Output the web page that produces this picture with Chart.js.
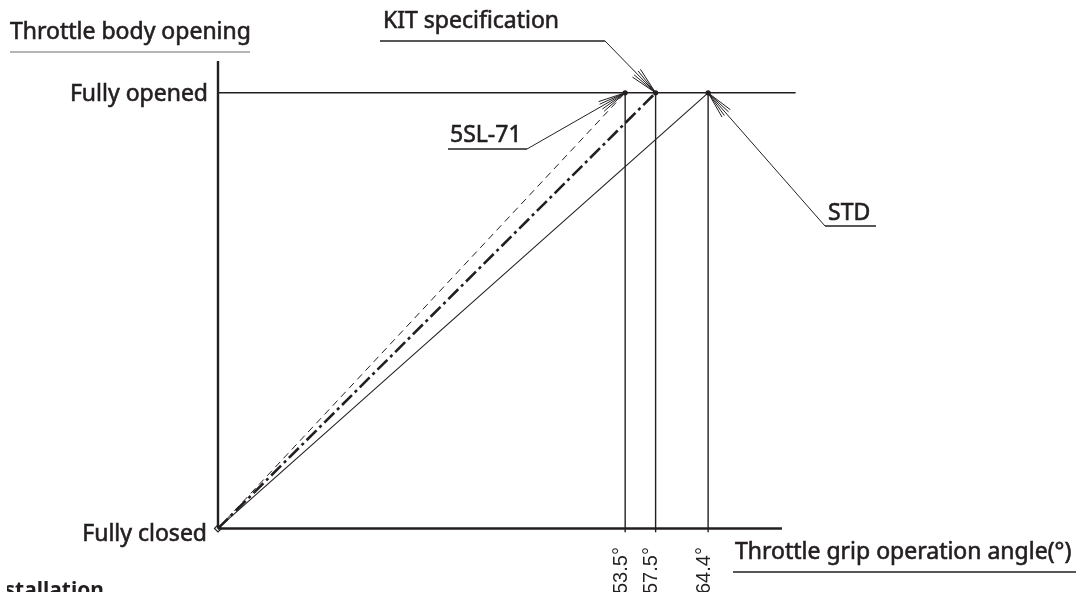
<!DOCTYPE html>
<html>
<head>
<meta charset="utf-8">
<script src="https://cdn.jsdelivr.net/npm/chart.js@4.4.1/dist/chart.umd.min.js"></script>
<style>
  html, body { margin: 0; padding: 0; background: #fff; }
  canvas { display: block; }
</style>
</head>
<body>
<canvas id="throttleChart" width="1078" height="592"></canvas>
<script>
// grip angle (deg) at which each spec reaches fully opened
const specNames = ['5SL-71', 'KIT specification', 'STD'];
const fullOpenAngles = [53.5, 57.5, 64.4];
const tickLabels = ['53.5°', '57.5°', '64.4°'];

// throttle body opening levels
const levelNames = ['Fully closed', 'Fully opened'];
const levelValues = [0, 1];

const xTitle = 'Throttle grip operation angle(°)';
const yTitle = 'Throttle body opening';

// extents of the drawn axes
const xAxisEnd = 74.1;
const openLineEnd = 75.9;
const yAxisTop = 1.073;

const ink = '#231f20';

const diag = (a) => [{ x: 0, y: levelValues[0] }, { x: a, y: levelValues[1] }];
const vline = (a) => [{ x: a, y: -0.009 }, { x: a, y: levelValues[1] }];

const lineSet = (data, width, dash) => ({
    data: data,
    showLine: true,
    borderColor: ink,
    borderWidth: width,
    borderDash: dash || [],
    pointRadius: 0,
    clip: false
});

const datasets = [
    lineSet([{ x: 0, y: 0 }, { x: 0, y: yAxisTop }], 2.4),
    lineSet([{ x: 0, y: 0 }, { x: xAxisEnd, y: 0 }], 2.4),
    lineSet([{ x: 0, y: levelValues[1] }, { x: openLineEnd, y: levelValues[1] }], 1.4),
];
fullOpenAngles.forEach(a => datasets.push(lineSet(vline(a), 1.4)));
datasets.push(lineSet(diag(fullOpenAngles[0]), 1, [7, 5]));
datasets.push(lineSet(diag(fullOpenAngles[1]), 2.6, [14, 4, 3, 4]));
datasets.push(lineSet(diag(fullOpenAngles[2]), 1.1));
datasets.push({
    data: fullOpenAngles.map(a => ({ x: a, y: levelValues[1] })),
    pointRadius: 2.6,
    pointBackgroundColor: ink,
    pointBorderWidth: 0,
    clip: false
});
datasets.push({
    data: [{ x: 0, y: 0 }],
    pointStyle: 'rectRot',
    pointRadius: 3.5,
    pointBackgroundColor: '#fff',
    pointBorderColor: ink,
    pointBorderWidth: 1.2,
    clip: false
});

function arrowTo(ctx, fx, fy, tx, ty) {
    ctx.lineWidth = 1;
    ctx.strokeStyle = ink;
    ctx.beginPath();
    ctx.moveTo(fx, fy);
    ctx.lineTo(tx, ty);
    ctx.stroke();
    const ang = Math.atan2(fy - ty, fx - tx);
    const len = 28;
    [-0.2, -0.1, 0.1, 0.2].forEach(d => {
        ctx.beginPath();
        ctx.moveTo(tx, ty);
        ctx.lineTo(tx + Math.cos(ang + d) * len, ty + Math.sin(ang + d) * len);
        ctx.stroke();
    });
}

function underline(ctx, x1, x2, y, w, c) {
    ctx.strokeStyle = c || ink;
    ctx.lineWidth = w || 1.3;
    ctx.beginPath();
    ctx.moveTo(x1, y);
    ctx.lineTo(x2, y);
    ctx.stroke();
}

// filled + thin stroke so the text looks as heavy as the print
function label(ctx, s, x, y) {
    ctx.fillStyle = ink;
    ctx.strokeStyle = ink;
    ctx.lineWidth = 0.6;
    ctx.fillText(s, x, y);
    ctx.strokeText(s, x, y);
}

const annotations = {
    id: 'annotations',
    afterDraw: (chart) => {
        const ctx = chart.ctx;
        const xs = chart.scales.x, ys = chart.scales.y;
        const topY = ys.getPixelForValue(levelValues[1]);
        const px = fullOpenAngles.map(a => xs.getPixelForValue(a));
        ctx.save();
        ctx.textBaseline = 'alphabetic';

        // y title
        ctx.font = '23px "Noto Sans"';
        ctx.textAlign = 'left';
        label(ctx, yTitle, 10, 39);
        underline(ctx, 10, 250, 52, 1.2, '#6d6e70');

        // level labels
        ctx.textAlign = 'right';
        label(ctx, levelNames[1], 208, 101);
        label(ctx, levelNames[0], 207, 541);

        // x title
        ctx.textAlign = 'left';
        label(ctx, xTitle, 735, 559);
        underline(ctx, 733, 1076, 572);

        // spec labels and leaders
        label(ctx, specNames[1], 383, 28);
        label(ctx, specNames[0], 450, 142);
        label(ctx, specNames[2], 828, 220);

        underline(ctx, 380, 605, 41);
        arrowTo(ctx, 605, 41, px[1], topY);
        underline(ctx, 448, 527, 149);
        arrowTo(ctx, 527, 149, px[0], topY);
        underline(ctx, 825, 876, 226);
        arrowTo(ctx, 825, 226, px[2], topY);

        // rotated tick labels
        ctx.font = '20px "Liberation Sans"';
        ctx.fillStyle = ink;
        ctx.textAlign = 'left';
        ctx.textBaseline = 'middle';
        px.forEach((x, i) => {
            ctx.save();
            ctx.translate(x - 4, 594);
            ctx.rotate(-Math.PI / 2);
            ctx.fillText(tickLabels[i], 0, 0);
            ctx.restore();
        });

        // cut-off heading at the bottom edge
        ctx.save();
        ctx.beginPath();
        ctx.rect(7, 0, 200, 592);
        ctx.clip();
        ctx.font = 'bold 21px "Noto Sans"';
        ctx.textAlign = 'right';
        ctx.textBaseline = 'alphabetic';
        ctx.fillStyle = ink;
        ctx.fillText('Installation', 104, 597);
        ctx.restore();
        ctx.restore();
    }
};

new Chart(document.getElementById('throttleChart').getContext('2d'), {
    type: 'scatter',
    data: { datasets: datasets },
    options: {
        responsive: false,
        animation: false,
        devicePixelRatio: 1,
        layout: { padding: { left: 218, top: 61, right: 281.6, bottom: 0 } },
        scales: {
            x: { type: 'linear', min: 0, max: 76, display: false },
            y: { type: 'linear', min: -0.134, max: yAxisTop, display: false }
        },
        plugins: { legend: { display: false }, tooltip: { enabled: false } }
    },
    plugins: [annotations]
});
</script>
</body>
</html>
